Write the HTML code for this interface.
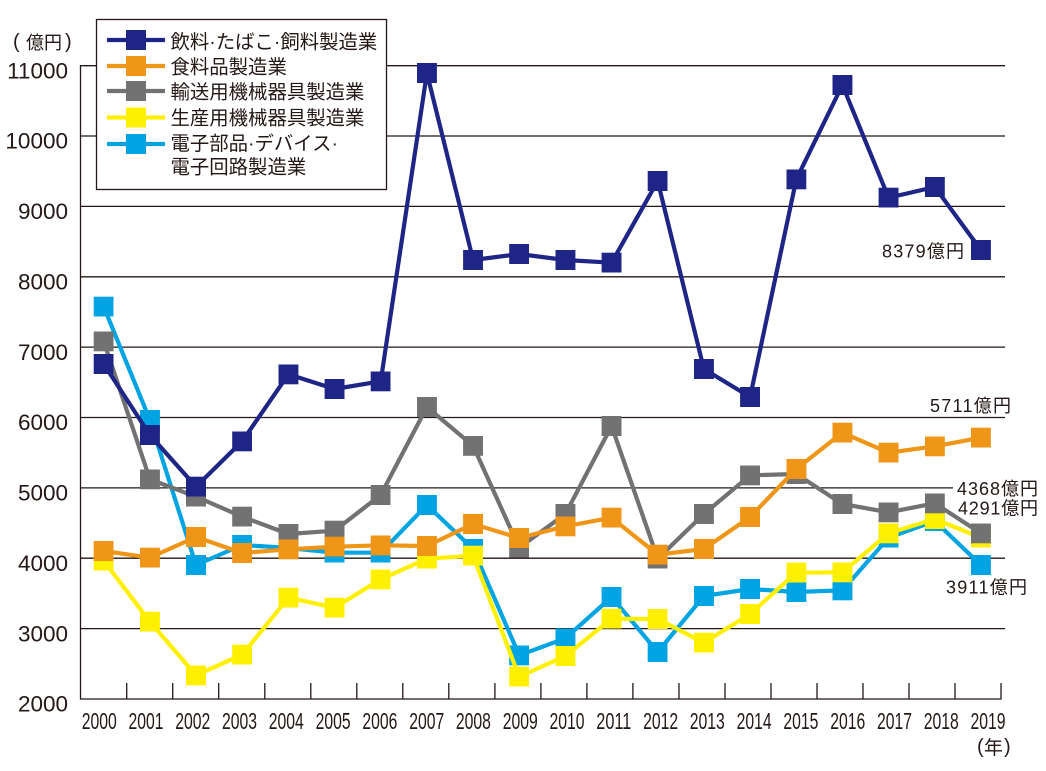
<!DOCTYPE html>
<html><head><meta charset="utf-8"><style>
html,body{margin:0;padding:0;background:#fff;}
svg{display:block;}
text{fill:#231815;}
.yl{font-family:"Liberation Sans",sans-serif;font-size:22.5px;text-anchor:end;}
.xl{font-family:"Liberation Sans",sans-serif;font-size:23px;text-anchor:middle;}
.lg{font-family:"Liberation Sans","Noto Sans CJK JP",sans-serif;font-size:19.4px;}
.dl{font-family:"Liberation Sans","Noto Sans CJK JP",sans-serif;font-size:18px;}
</style></head><body>
<svg width="1046" height="771" viewBox="0 0 1046 771" xmlns="http://www.w3.org/2000/svg">
<defs>
<marker id="mn" markerWidth="20" markerHeight="20" refX="10" refY="10" markerUnits="userSpaceOnUse" orient="0"><rect width="20" height="20" fill="#1f2587"/></marker>
<marker id="mo" markerWidth="20" markerHeight="20" refX="10" refY="10" markerUnits="userSpaceOnUse" orient="0"><rect width="20" height="20" fill="#ef9619"/></marker>
<marker id="mg" markerWidth="20" markerHeight="20" refX="10" refY="10" markerUnits="userSpaceOnUse" orient="0"><rect width="20" height="20" fill="#727272"/></marker>
<marker id="my" markerWidth="20" markerHeight="20" refX="10" refY="10" markerUnits="userSpaceOnUse" orient="0"><rect width="20" height="20" fill="#fff000"/></marker>
<marker id="mc" markerWidth="20" markerHeight="20" refX="10" refY="10" markerUnits="userSpaceOnUse" orient="0"><rect width="20" height="20" fill="#00a4e2"/></marker>
</defs>

<!-- gridlines -->
<g stroke="#231815" stroke-width="1.3">
<line x1="80" y1="65.7" x2="1005" y2="65.7"/>
<line x1="80" y1="136" x2="1005" y2="136"/>
<line x1="80" y1="206.4" x2="1005" y2="206.4"/>
<line x1="80" y1="276.8" x2="1005" y2="276.8"/>
<line x1="80" y1="347.1" x2="1005" y2="347.1"/>
<line x1="80" y1="417.5" x2="1005" y2="417.5"/>
<line x1="80" y1="487.9" x2="1005" y2="487.9"/>
<line x1="80" y1="558.2" x2="1005" y2="558.2"/>
<line x1="80" y1="628.6" x2="1005" y2="628.6"/>
<line x1="80.5" y1="65" x2="80.5" y2="699.5"/>
<line x1="80" y1="699" x2="1001.5" y2="699"/>
</g>
<g stroke="#231815" stroke-width="1.3">
<line x1="126.7" y1="683" x2="126.7" y2="699"/>
<line x1="172.7" y1="683" x2="172.7" y2="699"/>
<line x1="218.7" y1="683" x2="218.7" y2="699"/>
<line x1="264.8" y1="683" x2="264.8" y2="699"/>
<line x1="310.8" y1="683" x2="310.8" y2="699"/>
<line x1="356.8" y1="683" x2="356.8" y2="699"/>
<line x1="402.8" y1="683" x2="402.8" y2="699"/>
<line x1="448.8" y1="683" x2="448.8" y2="699"/>
<line x1="494.9" y1="683" x2="494.9" y2="699"/>
<line x1="540.9" y1="683" x2="540.9" y2="699"/>
<line x1="586.9" y1="683" x2="586.9" y2="699"/>
<line x1="632.9" y1="683" x2="632.9" y2="699"/>
<line x1="679" y1="683" x2="679" y2="699"/>
<line x1="725" y1="683" x2="725" y2="699"/>
<line x1="771" y1="683" x2="771" y2="699"/>
<line x1="817" y1="683" x2="817" y2="699"/>
<line x1="863" y1="683" x2="863" y2="699"/>
<line x1="909" y1="683" x2="909" y2="699"/>
<line x1="955" y1="683" x2="955" y2="699"/>
<line x1="1001" y1="683" x2="1001" y2="699"/>
</g>

<!-- y labels -->
<text class="yl" x="68" y="78.3">11000</text>
<text class="yl" x="68" y="148.7">10000</text>
<text class="yl" x="68" y="219.1">9000</text>
<text class="yl" x="68" y="289.5">8000</text>
<text class="yl" x="68" y="359.8">7000</text>
<text class="yl" x="68" y="430.2">6000</text>
<text class="yl" x="68" y="500.6">5000</text>
<text class="yl" x="68" y="570.9">4000</text>
<text class="yl" x="68" y="641.3">3000</text>
<text class="yl" x="68" y="711.7">2000</text>

<!-- x labels -->
<g class="xl">
<text x="99.2" y="729" textLength="35" lengthAdjust="spacingAndGlyphs">2000</text>
<text x="146" y="729" textLength="35" lengthAdjust="spacingAndGlyphs">2001</text>
<text x="192.8" y="729" textLength="35" lengthAdjust="spacingAndGlyphs">2002</text>
<text x="239.5" y="729" textLength="35" lengthAdjust="spacingAndGlyphs">2003</text>
<text x="286.3" y="729" textLength="35" lengthAdjust="spacingAndGlyphs">2004</text>
<text x="333.1" y="729" textLength="35" lengthAdjust="spacingAndGlyphs">2005</text>
<text x="379.9" y="729" textLength="35" lengthAdjust="spacingAndGlyphs">2006</text>
<text x="426.7" y="729" textLength="35" lengthAdjust="spacingAndGlyphs">2007</text>
<text x="473.4" y="729" textLength="35" lengthAdjust="spacingAndGlyphs">2008</text>
<text x="520.2" y="729" textLength="35" lengthAdjust="spacingAndGlyphs">2009</text>
<text x="567" y="729" textLength="35" lengthAdjust="spacingAndGlyphs">2010</text>
<text x="613.8" y="729" textLength="35" lengthAdjust="spacingAndGlyphs">2011</text>
<text x="660.6" y="729" textLength="35" lengthAdjust="spacingAndGlyphs">2012</text>
<text x="707.3" y="729" textLength="35" lengthAdjust="spacingAndGlyphs">2013</text>
<text x="754.1" y="729" textLength="35" lengthAdjust="spacingAndGlyphs">2014</text>
<text x="800.9" y="729" textLength="35" lengthAdjust="spacingAndGlyphs">2015</text>
<text x="847.7" y="729" textLength="35" lengthAdjust="spacingAndGlyphs">2016</text>
<text x="894.5" y="729" textLength="35" lengthAdjust="spacingAndGlyphs">2017</text>
<text x="941.2" y="729" textLength="35" lengthAdjust="spacingAndGlyphs">2018</text>
<text x="988" y="729" textLength="35" lengthAdjust="spacingAndGlyphs">2019</text>
</g>

<!-- units -->
<text x="13" y="48" style="font-family:'Liberation Sans',sans-serif;font-size:20px;">(</text>
<text x="26" y="49" style="font-family:'Liberation Sans','Noto Sans CJK JP',sans-serif;font-size:18px;">億円</text>
<text x="65" y="48" style="font-family:'Liberation Sans',sans-serif;font-size:20px;">)</text>
<text x="977" y="753" style="font-family:'Liberation Sans',sans-serif;font-size:20px;">(</text>
<text x="984" y="754" style="font-family:'Liberation Sans','Noto Sans CJK JP',sans-serif;font-size:19px;">年</text>
<text x="1004" y="753" style="font-family:'Liberation Sans',sans-serif;font-size:20px;">)</text>

<!-- series: cyan, yellow, gray, orange, navy -->
<polyline fill="none" stroke="#00a4e2" stroke-width="4.2" stroke-linejoin="round" marker-start="url(#mc)" marker-mid="url(#mc)" marker-end="url(#mc)"
points="103.7,306.7 149.9,420 196,565 242.2,545 288.4,548 334.6,552.7 380.7,552.7 426.9,505 473.1,549 519.2,655.3 565.4,638.3 611.6,597 657.7,652 703.9,596 750.1,589 796.3,592 842.4,590.3 888.6,537.7 934.8,521 980.9,565"/>
<polyline fill="none" stroke="#fff000" stroke-width="4.2" stroke-linejoin="round" marker-start="url(#my)" marker-mid="url(#my)" marker-end="url(#my)"
points="103.7,560.7 149.9,621.7 196,675.3 242.2,654.7 288.4,597.7 334.6,607.7 380.7,579.3 426.9,558.7 473.1,555.7 519.2,676.7 565.4,656 611.6,618.7 657.7,619 703.9,642.7 750.1,614 796.3,572.7 842.4,572.3 888.6,533.3 934.8,519 980.9,537.7"/>
<polyline fill="none" stroke="#727272" stroke-width="4.2" stroke-linejoin="round" marker-start="url(#mg)" marker-mid="url(#mg)" marker-end="url(#mg)"
points="103.7,341.3 149.9,479.3 196,496.7 242.2,516.7 288.4,534 334.6,530.7 380.7,495 426.9,407 473.1,445.8 519.2,547.7 565.4,514 611.6,426 657.7,558.7 703.9,514 750.1,475.3 796.3,474 842.4,504 888.6,512.3 934.8,503.3 980.9,533.3"/>
<polyline fill="none" stroke="#ef9619" stroke-width="4.2" stroke-linejoin="round" marker-start="url(#mo)" marker-mid="url(#mo)" marker-end="url(#mo)"
points="103.7,551 149.9,557.7 196,537 242.2,553 288.4,549.3 334.6,546.7 380.7,545.3 426.9,546 473.1,524 519.2,538 565.4,526.3 611.6,517.7 657.7,554.7 703.9,549 750.1,517 796.3,469 842.4,432.7 888.6,452.7 934.8,446.3 980.9,437.7"/>
<polyline fill="none" stroke="#1f2587" stroke-width="4.2" stroke-linejoin="round" marker-start="url(#mn)" marker-mid="url(#mn)" marker-end="url(#mn)"
points="103.7,364 149.9,435 196,486.7 242.2,441.3 288.4,374.3 334.6,389 380.7,381.3 426.9,73 473.1,260 519.2,254 565.4,260 611.6,262.7 657.7,181 703.9,369 750.1,397 796.3,179.3 842.4,85 888.6,197.7 934.8,187 980.9,250"/>

<!-- data labels -->
<text class="dl" x="882" y="257.3" textLength="82" lengthAdjust="spacing">8379億円</text>
<text class="dl" x="930" y="412" textLength="81" lengthAdjust="spacing">5711億円</text>
<rect x="953" y="478" width="93" height="20" fill="#fff"/>
<text class="dl" x="957" y="495" textLength="81" lengthAdjust="spacing">4368億円</text>
<text class="dl" x="958" y="514.5" textLength="80" lengthAdjust="spacing">4291億円</text>
<text class="dl" x="946" y="593.3" textLength="81" lengthAdjust="spacing">3911億円</text>

<!-- legend -->
<rect x="96.5" y="19.5" width="290" height="170" fill="#fff" stroke="#231815" stroke-width="1.3"/>
<g stroke-width="4.2">
<line x1="107" y1="40" x2="165" y2="40" stroke="#1f2587"/><rect x="126" y="30" width="20" height="20" fill="#1f2587"/>
<line x1="107" y1="66" x2="165" y2="66" stroke="#ef9619"/><rect x="126" y="56" width="20" height="20" fill="#ef9619"/>
<line x1="107" y1="91" x2="165" y2="91" stroke="#727272"/><rect x="126" y="81" width="20" height="20" fill="#727272"/>
<line x1="107" y1="117.5" x2="165" y2="117.5" stroke="#fff000"/><rect x="126" y="107.5" width="20" height="20" fill="#fff000"/>
<line x1="107" y1="144" x2="165" y2="144" stroke="#00a4e2"/><rect x="126" y="134" width="20" height="20" fill="#00a4e2"/>
</g>
<text class="lg" x="170.5" y="48.6">飲料·たばこ·飼料製造業</text>
<text class="lg" x="170.5" y="73.5">食料品製造業</text>
<text class="lg" x="170.5" y="98.3">輸送用機械器具製造業</text>
<text class="lg" x="170.5" y="124.5">生産用機械器具製造業</text>
<text class="lg" x="170.5" y="150">電子部品·デバイス·</text>
<text class="lg" x="170.5" y="173.3">電子回路製造業</text>
</svg>
</body></html>
